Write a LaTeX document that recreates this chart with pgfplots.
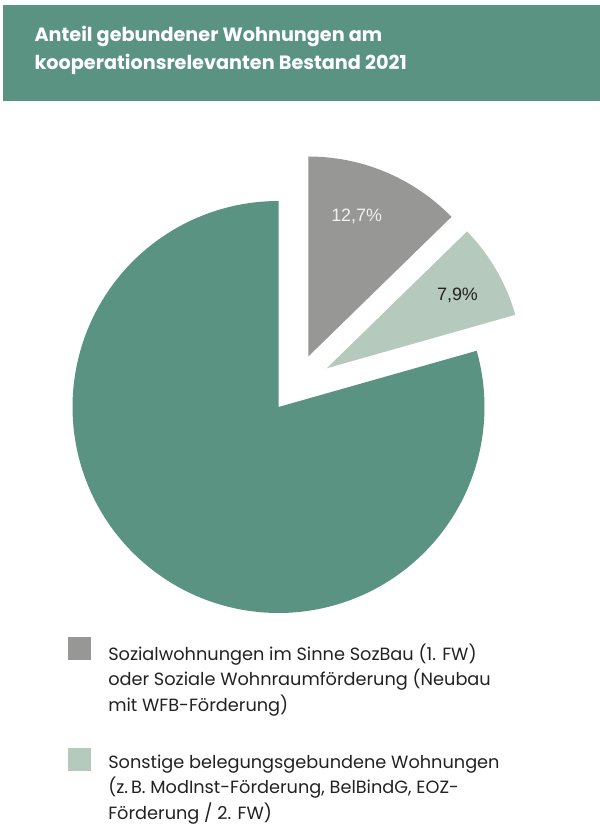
\documentclass[border=0pt]{standalone}
\usepackage{fontspec}
\setmainfont{Poppins}
\newfontfamily\labelfont{Liberation Sans}
\usepackage{pgfplots}
\pgfplotsset{compat=1.18}
\definecolor{mainG}{HTML}{5B9382}
\definecolor{grayS}{HTML}{979895}
\definecolor{lightG}{HTML}{B5C9BC}
\definecolor{txt}{HTML}{222222}
% shares in percent
\def\vSoz{12.7}
\def\vSon{7.9}
\def\vRest{79.4}
\begin{document}
\begin{tikzpicture}
\pgfmathsetmacro\aA{90-3.6*\vSoz}
\pgfmathsetmacro\aB{\aA-3.6*\vSon}
\pgfmathsetmacro\aC{90+3.6*\vRest}
\begin{axis}[
  scale only axis, width=600bp, height=833bp,
  xmin=0, xmax=600, ymin=0, ymax=833,
  hide axis, clip=false,
  legend style={at={(axis cs:68.3,195.7)}, anchor=north west, draw=none, fill=none,
    inner sep=0pt, outer sep=0pt, row sep=35bp, column sep=17bp,
    font=\fontsize{17.8}{25.7}\selectfont\color{txt},
    nodes={inner sep=0pt, align=left},
    cells={anchor=north west}},
  legend image code/.code={\fill[#1] (0bp,6.5bp) rectangle (23bp,-16.5bp);},
]
\path (axis cs:0,0) rectangle (axis cs:600,833);
\fill[mainG] (axis cs:3,732) rectangle (axis cs:600,828);
\node[anchor=base west, text=white, font=\fontsize{19.3}{24}\selectfont\bfseries] at (axis cs:31,791.3) {Anteil gebundener Wohnungen am};
\node[anchor=base west, text=white, font=\fontsize{19.3}{24}\selectfont\bfseries] at (axis cs:31,763.7) {kooperationsrelevanten Bestand 2021};
% main slice
\addplot[fill=mainG, draw=none, domain=90:\aC, samples=240, forget plot]
  ({278.5+206*cos(x)}, {426+206*sin(x)}) -- (axis cs:278.5,426) -- cycle;
% Sozialwohnungen
\addplot[fill=grayS, draw=none, domain=\aA:90, samples=80]
  ({308.3+200*cos(x)}, {476.5+200*sin(x)}) -- (axis cs:308.3,476.5) -- cycle;
\addlegendentry{Sozialwohnungen im Sinne SozBau (1. FW)\\oder Soziale Wohnraumförderung (Neubau\\mit WFB-Förderung)}
% Sonstige
\addplot[fill=lightG, draw=none, domain=\aB:\aA, samples=60]
  ({326.7+196*cos(x)}, {464.7+196*sin(x)}) -- (axis cs:326.7,464.7) -- cycle;
\addlegendentry{Sonstige belegungsgebundene Wohnungen\\(z.\,B. ModInst-Förderung, BelBindG, EOZ-\\Förderung / 2. FW)}
\node[text=white!94!black, font=\labelfont\fontsize{18}{20}\selectfont] at (axis cs:356.7,616.3) {12,7\%};
\node[text=txt, font=\labelfont\fontsize{18}{20}\selectfont] at (axis cs:457.5,538) {7,9\%};
\end{axis}
\end{tikzpicture}
\end{document}
